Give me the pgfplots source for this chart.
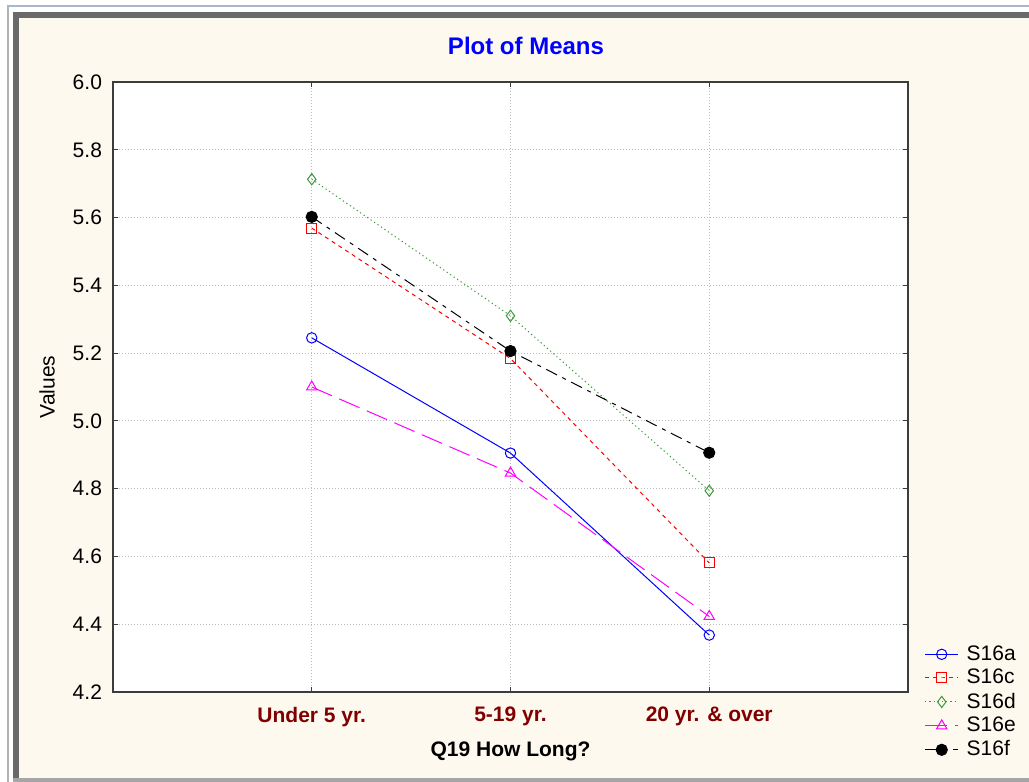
\documentclass[border=0pt]{standalone}
\usepackage{fontspec}
\setmainfont{Liberation Sans}
\usepackage{pgfplots}
\pgfplotsset{compat=1.18}

\definecolor{bgbeige}{HTML}{FEF9EE}
\definecolor{framegray}{HTML}{6A6A6A}
\definecolor{lightedge}{HTML}{A8B8CC}
\definecolor{darkred}{HTML}{800000}
\definecolor{mgreen}{HTML}{3A9A3A}
\definecolor{mmag}{HTML}{FF00FF}
\definecolor{gridgray}{HTML}{BDBDBD}
\definecolor{axisgray}{HTML}{3C3C3C}

\begin{document}
\begin{tikzpicture}
% frame, in pixels of the 1029x782 original (origin = lower left of the axis box)
\begin{scope}[x=0.5pt, y=0.5pt]
  \path[use as bounding box] (-113,-90) rectangle (916,692);
  \fill[white] (-113,-90) rectangle (916,692);
  \fill[lightedge] (-106,687) rectangle (916,685);
  \fill[gray!60] (-106,685) rectangle (-104,-90);
  \fill[bgbeige] (-100,-86) rectangle (916,680);
  \fill[framegray] (-100,680) rectangle (916,674);
  \fill[framegray] (-100,680) rectangle (-94,-86);
  \fill[gray!70] (-100,-86) rectangle (916,-90);
\end{scope}

\begin{axis}[
  scale only axis,
  width=397.5pt, height=305pt,
  xmin=-1, xmax=3, ymin=4.2, ymax=6.0,
  xtick={0,1,2},
  xticklabels={Under 5 yr., 5-19 yr., 20 yr. \& over},
  ytick={4.2,4.4,...,6.01},
  tick align=inside,
  major tick length=2.5pt,
  tick style={axisgray, line width=0.6pt},
  axis line style={axisgray, line width=0.8pt},
  axis background/.style={fill=white},
  grid=major,
  major grid style={gridgray, line width=0.5pt, dash pattern=on 0.5pt off 1pt},
  /pgf/number format/.cd, fixed, fixed zerofill, precision=1, assume math mode=true,
  /pgfplots/.cd,
  tick label style={font=\fontsize{10.5}{12.6}\selectfont},
  xticklabel style={font=\fontsize{10.5}{12.6}\selectfont\bfseries, text=darkred, yshift=-4pt},
  yticklabel style={xshift=-2pt},
  xlabel={Q19 How Long?},
  ylabel={Values},
  xlabel style={font=\fontsize{10.5}{12.6}\selectfont\bfseries, at={(axis description cs:0.5,-0.098)}, anchor=center},
  ylabel style={font=\fontsize{10.5}{12.6}\selectfont, at={(axis description cs:-0.083,0.5)}, anchor=center},
  legend style={at={(axis description cs:1.013,0.09)}, anchor=north west, draw=none, fill=none,
    font=\fontsize{10.5}{12.6}\selectfont, row sep=-1pt, column sep=2pt},
  legend cell align=left,
  legend image code/.code={
    \draw[mark repeat=2, mark phase=2, #1] plot coordinates {(0cm,0cm) (0.29cm,0cm) (0.58cm,0cm)};
  },
  every axis plot/.append style={line width=0.5pt},
]
\addplot[blue, mark=o, mark size=2.6pt, mark options={solid}] coordinates {(0,5.245) (1,4.905) (2,4.368)};
\addlegendentry{S16a}
\addplot[red, dash pattern=on 2pt off 2pt, mark=square, mark size=2.5pt, mark options={solid}] coordinates {(0,5.569) (1,5.184) (2,4.581)};
\addlegendentry{S16c}
\addplot[mgreen, dash pattern=on 0.6pt off 1.5pt, mark=diamond, mark size=2.8pt, mark options={solid}] coordinates {(0,5.713) (1,5.310) (2,4.794)};
\addlegendentry{S16d}
\addplot[mmag, dash pattern=on 11pt off 4pt, mark=triangle, mark size=3pt, mark options={solid}] coordinates {(0,5.100) (1,4.846) (2,4.423)};
\addlegendentry{S16e}
\addplot[black, dash pattern=on 6pt off 3pt on 2pt off 3pt, mark=*, mark size=2.8pt, mark options={solid}] coordinates {(0,5.602) (1,5.206) (2,4.906)};
\addlegendentry{S16f}
\end{axis}

\node[font=\fontsize{12}{14}\selectfont\bfseries, text=blue] at (206.5pt,323pt) {Plot of Means};
\end{tikzpicture}
\end{document}
